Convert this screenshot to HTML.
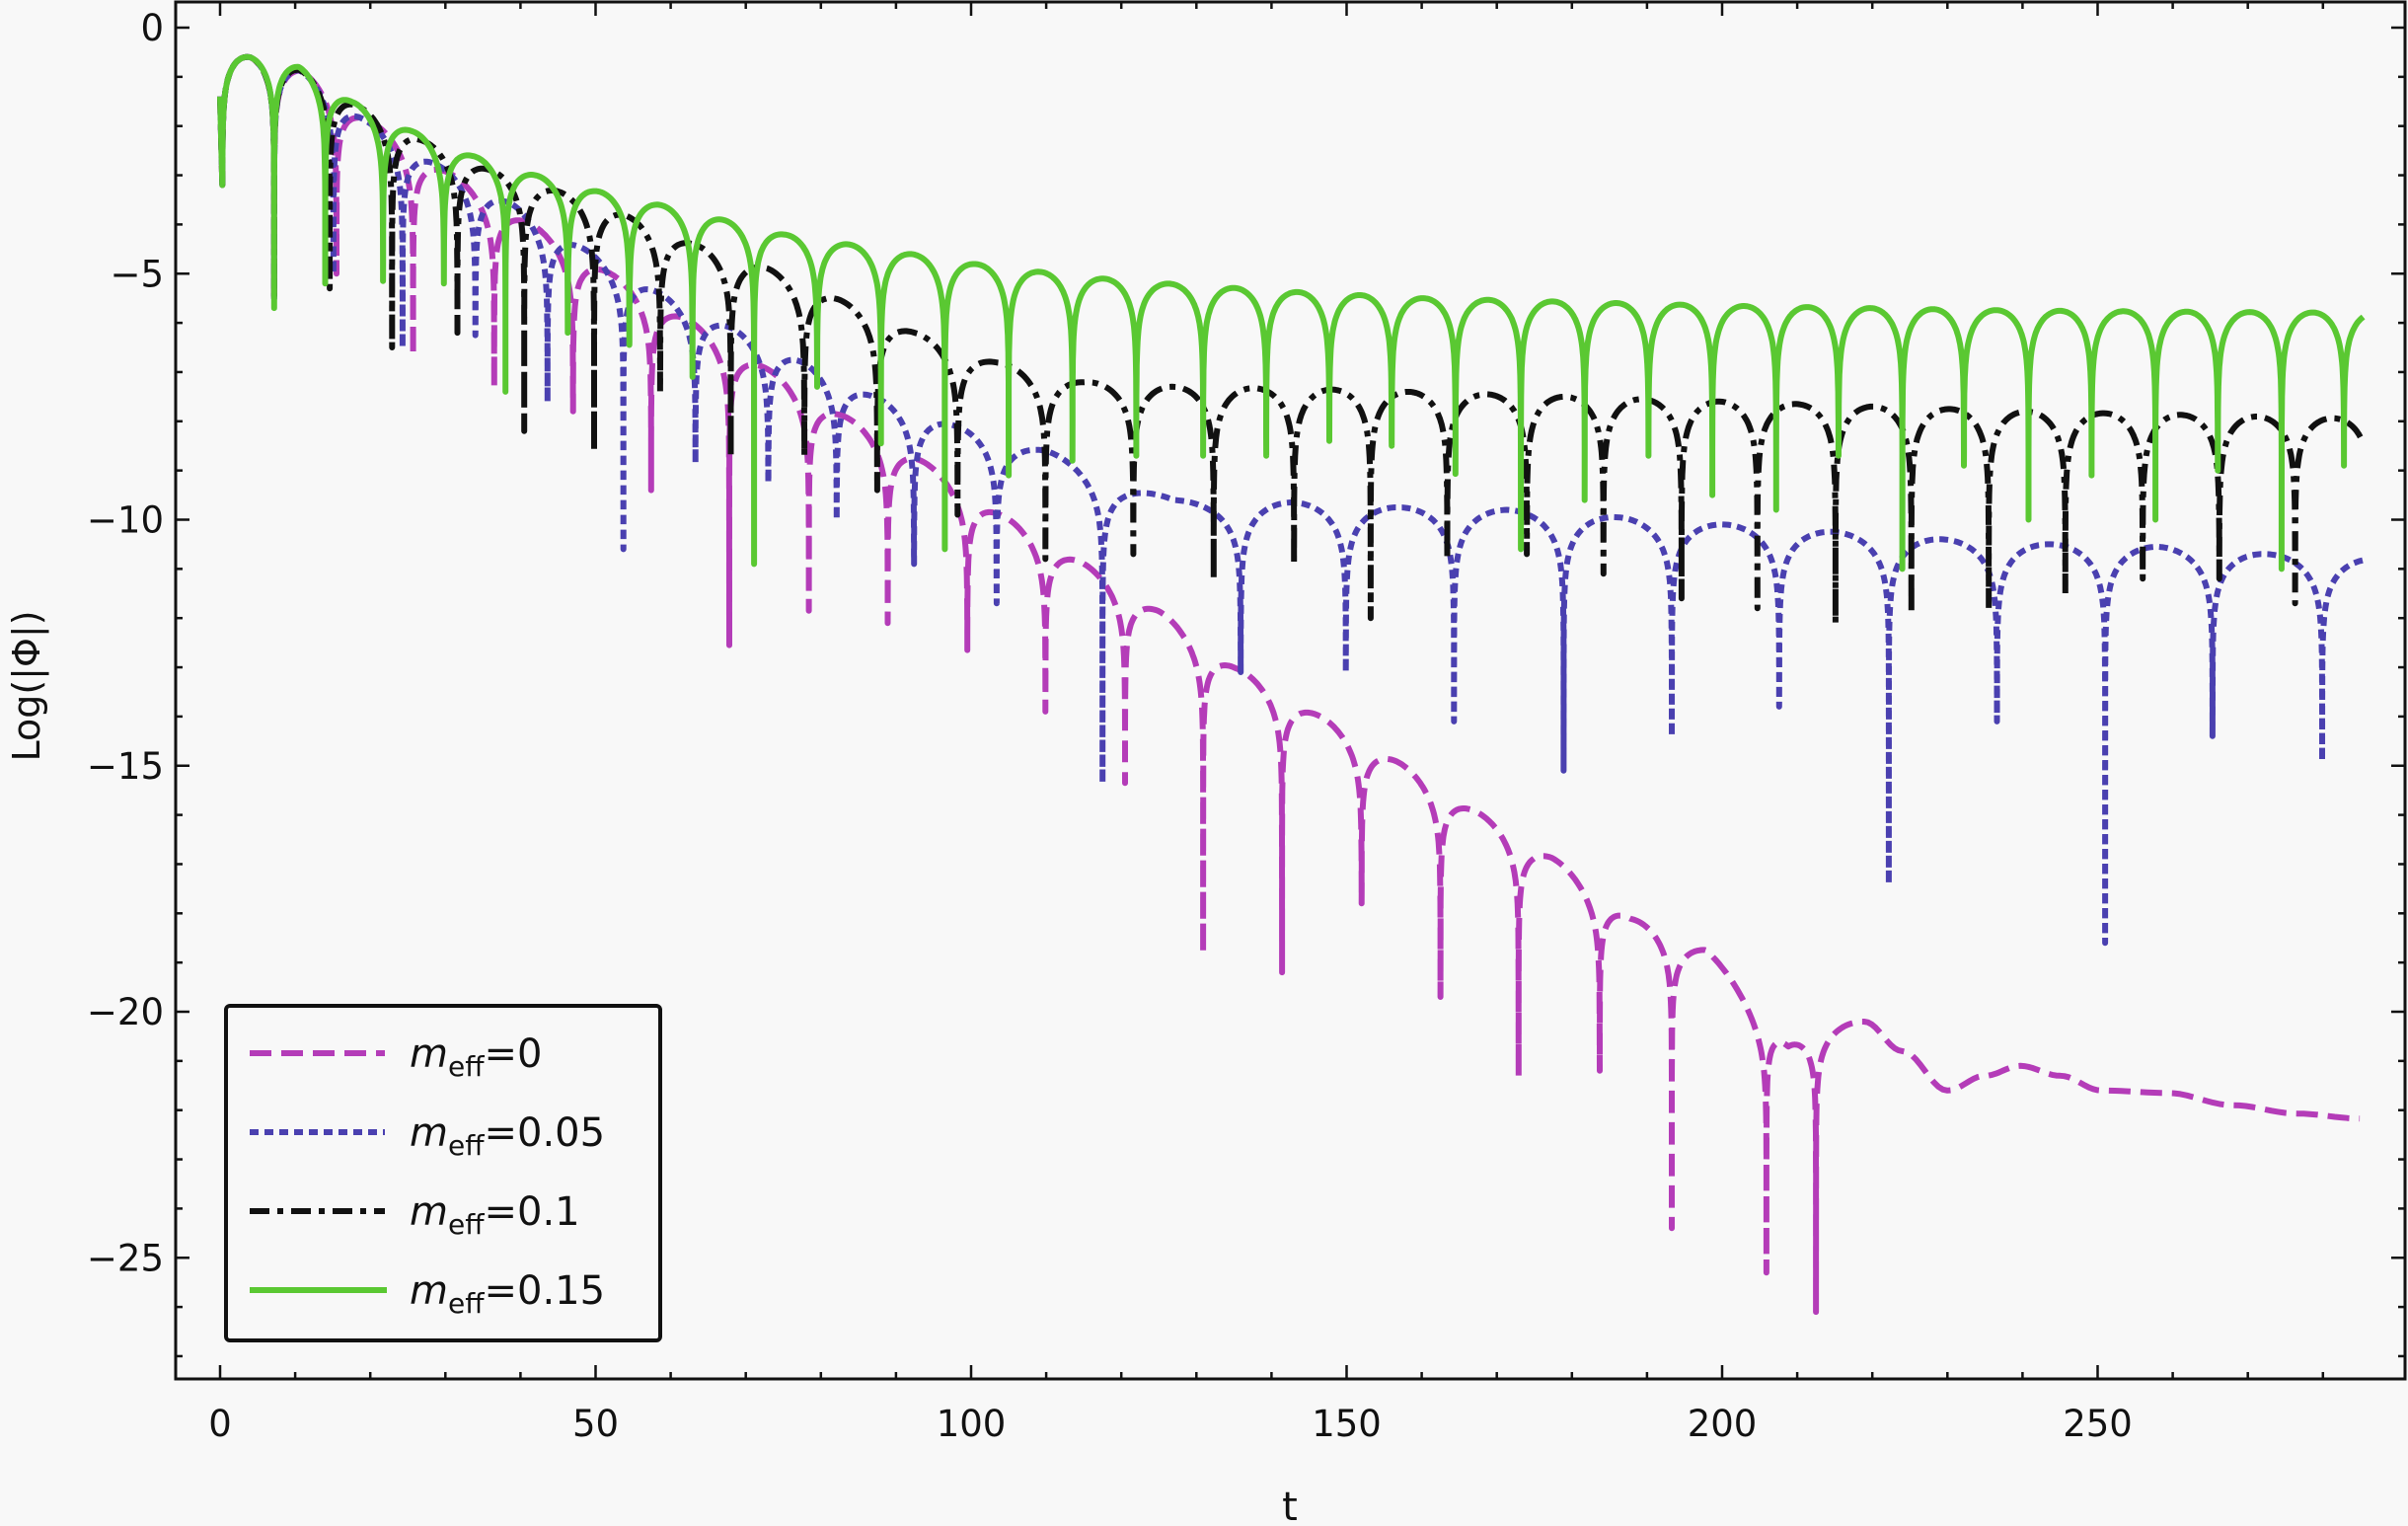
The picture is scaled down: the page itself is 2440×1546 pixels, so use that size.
<!DOCTYPE html>
<html><head><meta charset="utf-8">
<style>
html,body{margin:0;padding:0;background:#f8f8f8;}
svg{display:block;}
text{font-family:"DejaVu Sans","Liberation Sans",sans-serif;fill:#111;}
</style></head>
<body>
<svg id="s" width="2440" height="1546" viewBox="0 0 2440 1546" xmlns="http://www.w3.org/2000/svg">
<rect x="0" y="0" width="2440" height="1546" fill="#f8f8f8"/>
<defs><clipPath id="c"><rect x="178" y="2" width="2259" height="1395"/></clipPath></defs>
<g id="curves" clip-path="url(#c)"></g>
<g id="axes"></g>
<g id="legend">
<rect x="229" y="1019" width="440" height="339" rx="4" fill="#f8f8f8" stroke="#111" stroke-width="4"/>
<line x1="253" y1="1067" x2="390" y2="1067" stroke="#b43cb8" stroke-width="6" stroke-dasharray="22 10"/>
<line x1="253" y1="1147" x2="390" y2="1147" stroke="#4a40b0" stroke-width="6" stroke-dasharray="9 6"/>
<line x1="253" y1="1227" x2="390" y2="1227" stroke="#111" stroke-width="6" stroke-dasharray="20 8 6 8"/>
<line x1="253" y1="1307" x2="392" y2="1307" stroke="#5ac832" stroke-width="6"/>
<text x="415" y="1081" font-size="40"><tspan font-style="italic">m</tspan><tspan font-size="28" dy="9">eff</tspan><tspan dy="-9">=0</tspan></text>
<text x="415" y="1161" font-size="40"><tspan font-style="italic">m</tspan><tspan font-size="28" dy="9">eff</tspan><tspan dy="-9">=0.05</tspan></text>
<text x="415" y="1241" font-size="40"><tspan font-style="italic">m</tspan><tspan font-size="28" dy="9">eff</tspan><tspan dy="-9">=0.1</tspan></text>
<text x="415" y="1321" font-size="40"><tspan font-style="italic">m</tspan><tspan font-size="28" dy="9">eff</tspan><tspan dy="-9">=0.15</tspan></text>
</g>
<text x="1307" y="1540" font-size="40" text-anchor="middle">t</text>
<text x="0" y="0" font-size="38" text-anchor="middle" transform="translate(40,695) rotate(-90)">Log(|Φ|)</text>
</svg>
<script>
(function(){
var NS="http://www.w3.org/2000/svg";
function X(t){return 223+7.61*t;}
function Y(v){return 28-49.85*v;}
function interp(pts,t){
 if(t<=pts[0][0])return pts[0][1];
 for(var i=0;i<pts.length-1;i++){if(t<=pts[i+1][0]){var a=pts[i],b=pts[i+1];return a[1]+(b[1]-a[1])*(t-a[0])/(b[0]-a[0]);}}
 return pts[pts.length-1][1];
}
function lobes(dips,depths,env,tEnd){
 var P=[[0,-1.4]];
 for(var k=0;k<dips.length;k++){
  var d0=dips[k],d1=(k+1<dips.length)?dips[k+1]:dips[k]+(dips[k]-dips[k-1]);
  P.push([d0,depths[k]]);
  var N=80;
  for(var i=1;i<N;i++){
   var u=(1-Math.cos(Math.PI*i/N))/2;
   var t=d0+u*(d1-d0); if(t>tEnd){break;}
   var e=interp(env,t);
   var s=Math.sin(Math.PI*u);
   var fl=(u<0.5)?depths[k]:(k+1<depths.length?depths[k+1]:depths[k]);
   var v=e+Math.log10(Math.max(s,Math.pow(10,fl-e)));
   P.push([t,v]);
  }
  if(d1>tEnd)break;
 }
 return P;
}
function path(P){var s="";for(var i=0;i<P.length;i++){s+=(i?"L":"M")+X(P[i][0]).toFixed(1)+" "+Y(P[i][1]).toFixed(1);}return s;}
var g=document.getElementById("curves");
function add(d,col,dash,w){var p=document.createElementNS(NS,"path");p.setAttribute("d",d);p.setAttribute("fill","none");p.setAttribute("stroke",col);p.setAttribute("stroke-width",w||6);p.setAttribute("stroke-linejoin","round");if(dash)p.setAttribute("stroke-dasharray",dash);g.appendChild(p);}

// magenta
var mD=[0.3,7.2,15.5,25.7,36.5,47,57.4,67.8,78.4,88.9,99.5,109.9,120.5,130.9,141.4,152,162.5,172.9,183.7,193.3,205.9,212.5];
var mDp=[-3.2,-5.5,-5.0,-6.65,-7.3,-7.8,-9.4,-12.55,-11.85,-12.1,-12.65,-13.9,-15.35,-18.8,-19.2,-17.8,-19.7,-21.3,-21.2,-24.4,-25.3,-26.1];
var mE=[[0,-0.55],[4,-0.6],[10.5,-0.85],[20,-1.9],[31,-3.0],[41.5,-4.0],[52,-5.0],[60.8,-5.8],[71.4,-6.8],[82,-7.8],[92.5,-8.7],[104,-9.9],[114,-10.8],[125,-11.85],[135.2,-13],[145.4,-13.9],[156.6,-14.9],[166.9,-15.9],[177.3,-16.85],[187.8,-18.1],[197.8,-18.7],[208.8,-20.7],[218.9,-20.2]];
var MP=lobes(mD,mDp,mE,212.5);
MP=MP.filter(function(p){return p[0]<212.5;});
MP.push([212.5,-26.1]);
for(var i=1;i<=40;i++){var u=(1-Math.cos(Math.PI*i/80))*1;var t=212.5+6.4*u;MP.push([t,-20.2+Math.log10(Math.max(Math.sin(Math.PI/2*u),1e-6))]);}
var tail=[[218.9,-20.2],[224,-20.8],[230,-21.6],[235,-21.3],[239.7,-21.1],[245,-21.3],[250.5,-21.6],[259.3,-21.65],[268,-21.9],[276.6,-22.07],[284.9,-22.17]];
for(var j=0;j<tail.length-1;j++){var a=tail[j],b=tail[j+1];for(var i=1;i<=10;i++){var u=i/10;var w=(1-Math.cos(Math.PI*u))/2;MP.push([a[0]+(b[0]-a[0])*u,a[1]+(b[1]-a[1])*w]);}}
add(path(MP),"#b43cb8","22 10");

// blue
var bD=[0.3,7.2,15.1,24.3,34,43.6,53.7,63.3,73,82.1,92.4,103.4,117.5,135.9,149.9,164.3,178.9,193.3,207.6,222.2,236.6,251,265.3,279.9];
var bDp=[-3.2,-5.5,-5.0,-6.5,-6.25,-7.6,-10.6,-8.85,-9.25,-10,-10.9,-11.7,-15.35,-13.1,-13.1,-14.1,-15.1,-14.4,-13.8,-17.4,-14.1,-18.6,-14.4,-14.9];
var bE=[[0,-0.55],[4,-0.6],[10.5,-0.85],[19.5,-1.9],[29,-2.8],[39,-3.6],[48.5,-4.5],[58.5,-5.4],[68,-6.1],[77.5,-6.8],[87,-7.5],[98,-8.1],[110,-8.6],[127,-9.6],[143,-9.65],[157,-9.75],[171.5,-9.8],[186,-9.95],[200.5,-10.1],[215,-10.25],[229.4,-10.4],[243.8,-10.5],[258,-10.55],[272.6,-10.7],[287,-10.8]];
add(path(lobes(bD,bDp,bE,285.5)),"#4a40b0","9 6");

// black
var kD=[0.3,7.2,14.6,22.9,31.6,40.5,49.8,58.6,68,77.8,87.5,98.2,109.9,121.6,132.3,143,153.2,163.4,174,184.2,194.6,204.7,215.1,225.2,235.5,245.7,256,266.2,276.3];
var kDp=[-3.2,-5.5,-5.3,-6.5,-6.2,-8.2,-8.6,-7.4,-8.7,-8.7,-9.4,-9.9,-10.8,-10.7,-11.2,-10.9,-12,-10.8,-10.7,-11.1,-11.6,-11.8,-12.1,-11.9,-11.8,-11.5,-11.2,-11.2,-11.7];
var kE=[[0,-0.55],[4,-0.6],[10.5,-0.85],[19,-1.65],[27,-2.3],[36,-2.9],[44.5,-3.3],[53.7,-3.8],[63,-4.4],[73,-4.9],[82,-5.5],[92.5,-6.2],[103.4,-6.8],[115,-7.2],[127,-7.3],[147,-7.35],[158,-7.4],[200,-7.6],[240,-7.8],[285,-7.95]];
add(path(lobes(kD,kDp,kE,285.2)),"#111111","20 8 6 8");

// green
var gD=[0.3,7.2,14,21.7,29.8,38,46.3,54.5,62.9,71.1,79.5,88,96.5,105,113.5,122,130.9,139.3,147.7,156,164.5,173.2,181.7,190.2,198.7,207.2,215.5,224,232.2,240.8,249.2,257.7,266,274.5,282.8];
var gDp=[-3.2,-5.7,-5.2,-5.15,-5.2,-7.4,-6.2,-6.45,-7.1,-10.9,-7.3,-8.45,-10.6,-9.1,-8.8,-8.7,-8.7,-8.7,-8.4,-8.5,-9.07,-10.6,-9.6,-8.7,-9.5,-9.8,-8.7,-11,-8.9,-10,-9.1,-10,-9,-11,-8.9];
var gE=[[0,-0.55],[4,-0.6],[10.5,-0.8],[17.5,-1.5],[25.5,-2.1],[33.5,-2.6],[42,-3.0],[49.5,-3.3],[58.5,-3.6],[66.8,-3.9],[75,-4.2],[83.5,-4.4],[92,-4.6],[100.4,-4.8],[109,-4.96],[117.5,-5.1],[126,-5.2],[143,-5.37],[160.5,-5.5],[200,-5.65],[240,-5.75],[290,-5.8]];
add(path(lobes(gD,gDp,gE,285.4)),"#5ac832",null,6);

// axes
var ax=document.getElementById("axes");
function ln(x1,y1,x2,y2,w){var l=document.createElementNS(NS,"line");l.setAttribute("x1",x1);l.setAttribute("y1",y1);l.setAttribute("x2",x2);l.setAttribute("y2",y2);l.setAttribute("stroke","#111");l.setAttribute("stroke-width",w);ax.appendChild(l);}
function tx(x,y,s,anc){var t=document.createElementNS(NS,"text");t.setAttribute("x",x);t.setAttribute("y",y);t.setAttribute("font-size","37");t.setAttribute("text-anchor",anc);t.textContent=s;ax.appendChild(t);}
var L=178,R=2437,T=2,B=1397;
ax.innerHTML='<rect x="'+L+'" y="'+T+'" width="'+(R-L)+'" height="'+(B-T)+'" fill="none" stroke="#111" stroke-width="3"/>';
for(var t=0;t<=280;t+=10){var x=X(t);var maj=(t%50==0);var len=maj?14:7;ln(x,B,x,B-len,2.5);ln(x,T,x,T+len,2.5);if(maj)tx(x,1455,String(t),"middle");}
for(var v=0;v>=-27;v--){var y=Y(v);var maj=(v%5==0);var len=maj?14:7;ln(L,y,L+len,y,2.5);ln(R,y,R-len,y,2.5);if(maj)tx(166,y+13,v==0?"0":"\u2212"+(-v),"end");}
})();
</script>
</body></html>
